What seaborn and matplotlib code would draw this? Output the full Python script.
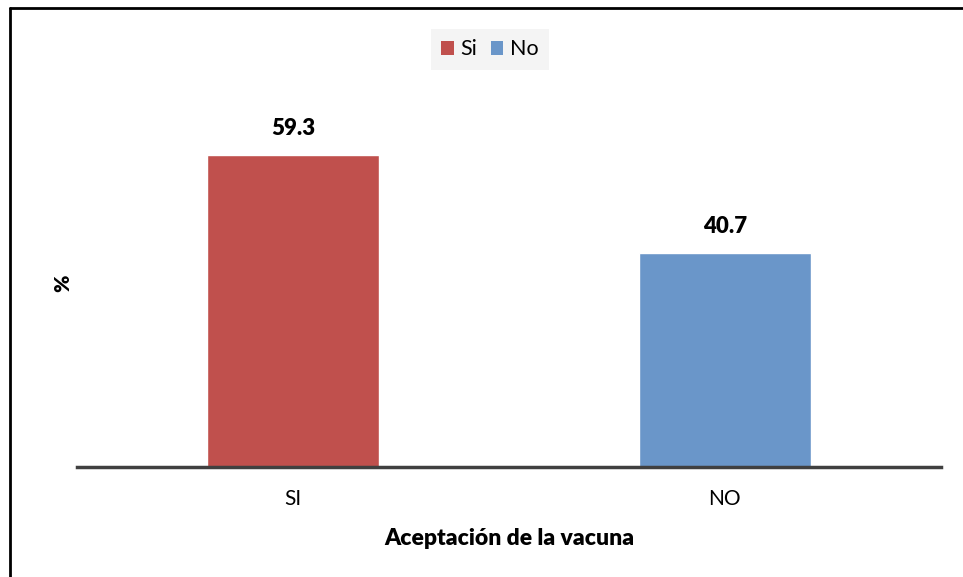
import matplotlib
matplotlib.use("Agg")
import matplotlib.pyplot as plt
from matplotlib.lines import Line2D
from matplotlib.patches import Patch
import pandas as pd
import seaborn as sns

# data
categorias = ["SI", "NO"]
porcentajes = [59.3, 40.7]
leyenda = ["Si", "No"]
colores = ["#C0504D", "#6A96C9"]

df = pd.DataFrame({"cat": categorias, "pct": porcentajes, "grupo": leyenda})

sns.set_style("white")
plt.rcParams["font.family"] = ["Lato", "DejaVu Sans"]
plt.rcParams["text.color"] = "black"
plt.rcParams["axes.labelcolor"] = "black"
plt.rcParams["xtick.color"] = "black"

fig = plt.figure(figsize=(9.63, 5.77), dpi=100)
ax = fig.add_axes([0.08, 0.191, 0.897, 0.774])

sns.barplot(data=df, x="cat", y="pct", hue="grupo", palette=colores,
            saturation=1, dodge=False, width=0.4, legend=False, ax=ax)

ax.set_xlim(-0.5, 1.5)
ax.set_ylim(0, 85)

for p, v in zip(ax.patches, porcentajes):
    ax.text(p.get_x() + p.get_width() / 2, v + 3.0, f"{v:.1f}",
            ha="center", va="bottom", fontsize=16, fontweight="heavy")

# axes decoration
for s in ["top", "right", "left"]:
    ax.spines[s].set_visible(False)
ax.spines["bottom"].set_color("#404040")
ax.spines["bottom"].set_linewidth(2.5)
ax.set_yticks([])
ax.tick_params(axis="x", length=0, labelsize=15, pad=16)
ax.set_xlabel("Aceptación de la vacuna", fontsize=16.5, fontweight="heavy", labelpad=14)
ax.set_ylabel("%", fontsize=15, fontweight="heavy")
ax.yaxis.set_label_coords(-0.005, 0.41)

handles = [Patch(facecolor=c, edgecolor="none") for c in colores]
leg = ax.legend(handles, leyenda, loc="upper center", bbox_to_anchor=(0.478, 1.005),
                ncol=2, frameon=True, fontsize=15.5, handlelength=0.6,
                handleheight=0.6, handletextpad=0.3, columnspacing=0.6,
                borderpad=0.5, fancybox=False)
leg.get_frame().set_facecolor("#F2F2F2")
leg.get_frame().set_edgecolor("none")

# chart-area border (only left and top visible in the reference)
fig.add_artist(Line2D([0.0103, 0.0103], [0, 0.986], transform=fig.transFigure,
                      color="black", lw=2))
fig.add_artist(Line2D([0.0103, 1.0], [0.986, 0.986], transform=fig.transFigure,
                      color="black", lw=2))

fig.savefig("out.png", dpi=100)
